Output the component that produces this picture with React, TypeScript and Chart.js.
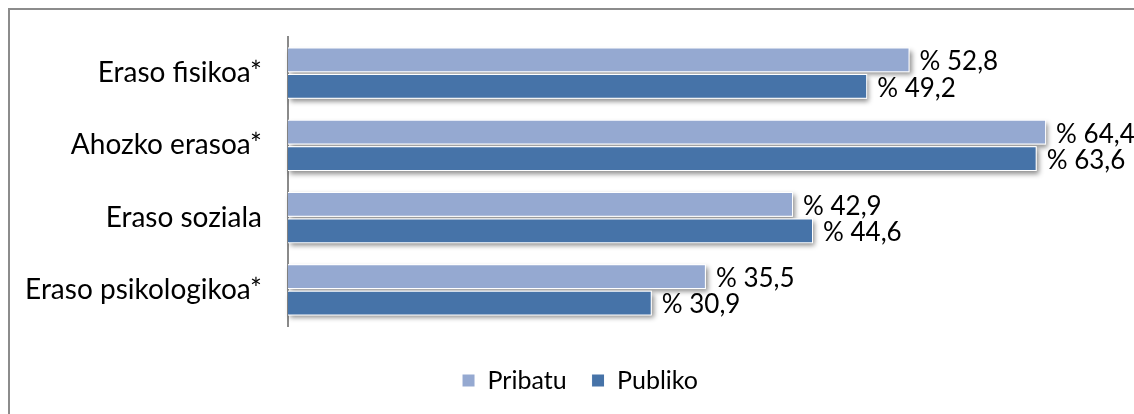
import React, { useEffect, useRef } from 'react';
import { Chart, registerables } from 'chart.js';

Chart.register(...registerables);

const categories = ['Eraso fisikoa*', 'Ahozko erasoa*', 'Eraso soziala', 'Eraso psikologikoa*'];
const seriesNames = ['Pribatu', 'Publiko'];
const pribatu = [52.8, 64.4, 42.9, 35.5];
const publiko = [49.2, 63.6, 44.6, 30.9];
const xMin = 0;
const xMax = 70;

const COLORS = ['#95A9D1', '#4673A8'];
const FONT = 'Lato';

const fmt = (v: number) => '% ' + v.toFixed(1).replace('.', ',');

const shadowPlugin = {
  id: 'barShadow',
  beforeDatasetsDraw(chart: any) {
    const ctx = chart.ctx;
    chart.data.datasets.forEach((ds: any, di: number) => {
      const meta = chart.getDatasetMeta(di);
      meta.data.forEach((bar: any) => {
        const { x, y, base, height } = bar.getProps(['x', 'y', 'base', 'height'], true);
        ctx.save();
        ctx.shadowColor = 'rgba(0,0,0,0.45)';
        ctx.shadowBlur = 5;
        ctx.shadowOffsetX = 2;
        ctx.shadowOffsetY = 3;
        ctx.fillStyle = '#ffffff';
        ctx.fillRect(Math.min(x, base), y - height / 2, Math.abs(x - base), height);
        ctx.restore();
      });
    });
  },
};

const labelPlugin = {
  id: 'valueLabels',
  afterDatasetsDraw(chart: any) {
    const ctx = chart.ctx;
    ctx.save();
    ctx.font = `26px ${FONT}`;
    ctx.fillStyle = '#000';
    ctx.textAlign = 'left';
    ctx.textBaseline = 'middle';
    chart.data.datasets.forEach((ds: any, di: number) => {
      const meta = chart.getDatasetMeta(di);
      meta.data.forEach((bar: any, i: number) => {
        const { x, y } = bar.getProps(['x', 'y'], true);
        ctx.fillText(fmt(ds.data[i]), x + 10, y + 2);
      });
    });
    ctx.restore();
  },
};

const legendShift = {
  id: 'legendShift',
  afterLayout(chart: any) {
    const lg = chart.legend;
    if (lg) {
      lg.left += 19;
      lg.right += 19;
    }
  },
};

export default function App() {
  const ref = useRef<HTMLCanvasElement>(null);
  useEffect(() => {
    if (!ref.current) return;
    const chart = new Chart(ref.current, {
      type: 'bar',
      data: {
        labels: categories,
        datasets: [
          { label: seriesNames[0], data: pribatu, backgroundColor: COLORS[0], borderColor: '#ffffff', borderWidth: 1, categoryPercentage: 0.73, barPercentage: 0.94 },
          { label: seriesNames[1], data: publiko, backgroundColor: COLORS[1], borderColor: '#ffffff', borderWidth: 1, categoryPercentage: 0.73, barPercentage: 0.94 },
        ],
      },
      options: {
        indexAxis: 'y',
        animation: false,
        responsive: false,
        maintainAspectRatio: false,
        devicePixelRatio: 1,
        layout: { padding: { top: 27, right: 22, bottom: 11, left: 0 } },
        scales: {
          x: {
            min: xMin,
            max: xMax,
            display: true,
            ticks: { display: false },
            grid: { display: false, drawTicks: false },
            border: { display: false },
            afterFit: (s: any) => { s.height = 17; },
          },
          y: {
            ticks: { color: '#000', font: { family: FONT, size: 28 }, padding: 0 },
            grid: { display: true, drawOnChartArea: false, drawTicks: true, tickLength: 26, color: 'rgba(0,0,0,0)' },
            border: { display: true, color: '#8a8a8a', width: 2 },
            afterFit: (s: any) => { s.width = 278; },
          },
        },
        plugins: {
          legend: {
            position: 'bottom',
            labels: { color: '#000', font: { family: FONT, size: 25 }, boxWidth: 13, boxHeight: 13, padding: 25 },
          },
          tooltip: { enabled: false },
          title: { display: false },
        },
      },
      plugins: [shadowPlugin, labelPlugin, legendShift],
    });
    return () => chart.destroy();
  }, []);
  return (
    <div style={{ position: 'fixed', left: 8, top: 8, width: 1126, height: 406, borderTop: '2px solid #8c8c8c', borderLeft: '2px solid #8c8c8c', boxSizing: 'border-box', background: '#fff' }}>
      <canvas ref={ref} width={1124} height={404} style={{ display: 'block', width: 1124, height: 404 }} />
    </div>
  );
}
